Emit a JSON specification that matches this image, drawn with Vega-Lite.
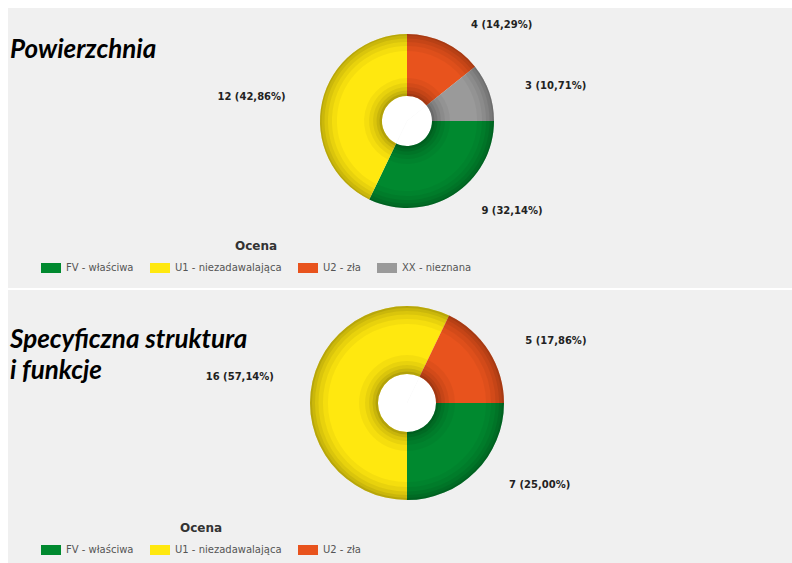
{
  "$schema": "https://vega.github.io/schema/vega-lite/v6.json",
  "background": "white",
  "padding": {"left": 8, "top": 8, "right": 0, "bottom": 0},
  "spacing": 2,
  "resolve": {"scale": {"color": "independent", "theta": "independent"}, "legend": {"color": "independent"}},
  "vconcat": [
    {
      "width": 784,
      "height": 280,
      "title": {"text": "Powierzchnia", "anchor": "start", "frame": "group", "orient": "top", "offset": 0, "baseline": "alphabetic", "dy": 76, "font": "Lato", "fontSize": 26, "fontWeight": "bold", "fontStyle": "italic", "color": "#000000", "dx": 2},
      "data": {"values": [
        {"ocena": "FV - właściwa", "liczba": 9, "etykieta": "9 (32,14%)"},
        {"ocena": "U1 - niezadawalająca", "liczba": 12, "etykieta": "12 (42,86%)"},
        {"ocena": "U2 - zła", "liczba": 4, "etykieta": "4 (14,29%)"},
        {"ocena": "XX - nieznana", "liczba": 3, "etykieta": "3 (10,71%)"}
      ]},
      "layer": [
        {"mark": {"type": "rect", "fill": "#f0f0f0"}, "encoding": {}},
        {
          "encoding": {
            "theta": {"field": "liczba", "type": "quantitative", "stack": true, "scale": {"range": [1.5707963, 7.8539816]}},
            "detail": {"field": "ocena", "type": "nominal"},
            "order": {"field": "ocena", "type": "ordinal"}
          },
          "layer": [
            {"mark": {"type": "arc", "radius": 26, "radius2": 0, "fill": "white", "xOffset": 7, "yOffset": -27}},
            {"mark": {"type": "arc", "radius": 87, "radius2": 25, "xOffset": 7, "yOffset": -27, "strokeWidth": 0},
             "encoding": {"color": {"field": "ocena", "type": "nominal",
               "scale": {"domain": ["FV - właściwa", "U1 - niezadawalająca", "U2 - zła", "XX - nieznana"], "range": ["#00892f", "#ffe80f", "#e8531d", "#9a9a9a"]},
               "legend": {"orient": "none", "legendX": 33, "legendY": 233, "direction": "horizontal", "title": "Ocena", "titleAnchor": "middle"}}}},
            {"mark": {"type": "arc", "radius": 87, "radius2": 70, "fill": "black", "opacity": 0.04, "xOffset": 7, "yOffset": -27}},
            {"mark": {"type": "arc", "radius": 87, "radius2": 75, "fill": "black", "opacity": 0.05, "xOffset": 7, "yOffset": -27}},
            {"mark": {"type": "arc", "radius": 87, "radius2": 79, "fill": "black", "opacity": 0.06, "xOffset": 7, "yOffset": -27}},
            {"mark": {"type": "arc", "radius": 87, "radius2": 82.5, "fill": "black", "opacity": 0.07, "xOffset": 7, "yOffset": -27}},
            {"mark": {"type": "arc", "radius": 87, "radius2": 85.5, "fill": "black", "opacity": 0.09, "xOffset": 7, "yOffset": -27}},
            {"mark": {"type": "arc", "radius": 43, "radius2": 25, "fill": "black", "opacity": 0.04, "xOffset": 7, "yOffset": -27}},
            {"mark": {"type": "arc", "radius": 38, "radius2": 25, "fill": "black", "opacity": 0.05, "xOffset": 7, "yOffset": -27}},
            {"mark": {"type": "arc", "radius": 34, "radius2": 25, "fill": "black", "opacity": 0.06, "xOffset": 7, "yOffset": -27}},
            {"mark": {"type": "arc", "radius": 30.5, "radius2": 25, "fill": "black", "opacity": 0.08, "xOffset": 7, "yOffset": -27}},
            {"mark": {"type": "arc", "radius": 27.5, "radius2": 25, "fill": "black", "opacity": 0.1, "xOffset": 7, "yOffset": -27}},
            {"mark": {"type": "text", "radius": 106, "xOffset": 7, "yOffset": -27, "font": "DejaVu Sans", "fontSize": 10, "fontWeight": "bold", "fill": "#222222", "baseline": "middle",
               "align": {"expr": "indexof(datum.ocena, 'U1') == 0 ? 'right' : 'left'"},
               "dx": {"expr": "indexof(datum.ocena, 'U1') == 0 ? -18 : 18"}},
             "encoding": {"text": {"field": "etykieta", "type": "nominal"}}}
          ]
        }
      ]
    },
    {
      "width": 784,
      "height": 273,
      "title": {"text": ["Specyficzna struktura", "\u00a0i funkcje"], "anchor": "start", "frame": "group", "orient": "top", "offset": 0, "baseline": "alphabetic", "dy": 115, "lineHeight": 31, "font": "Lato", "fontSize": 26, "fontWeight": "bold", "fontStyle": "italic", "color": "#000000", "dx": 2},
      "data": {"values": [
        {"ocena": "FV - właściwa", "liczba": 7, "etykieta": "7 (25,00%)"},
        {"ocena": "U1 - niezadawalająca", "liczba": 16, "etykieta": "16 (57,14%)"},
        {"ocena": "U2 - zła", "liczba": 5, "etykieta": "5 (17,86%)"}
      ]},
      "layer": [
        {"mark": {"type": "rect", "fill": "#f0f0f0"}, "encoding": {}},
        {
          "encoding": {
            "theta": {"field": "liczba", "type": "quantitative", "stack": true, "scale": {"range": [1.5707963, 7.8539816]}},
            "detail": {"field": "ocena", "type": "nominal"},
            "order": {"field": "ocena", "type": "ordinal"}
          },
          "layer": [
            {"mark": {"type": "arc", "radius": 30, "radius2": 0, "fill": "white", "xOffset": 7, "yOffset": -23.5}},
            {"mark": {"type": "arc", "radius": 97, "radius2": 29, "xOffset": 7, "yOffset": -23.5, "strokeWidth": 0},
             "encoding": {"color": {"field": "ocena", "type": "nominal",
               "scale": {"domain": ["FV - właściwa", "U1 - niezadawalająca", "U2 - zła"], "range": ["#00892f", "#ffe80f", "#e8531d"]},
               "legend": {"orient": "none", "legendX": 33, "legendY": 233, "direction": "horizontal", "title": "Ocena", "titleAnchor": "middle"}}}},
            {"mark": {"type": "arc", "radius": 97, "radius2": 79, "fill": "black", "opacity": 0.04, "xOffset": 7, "yOffset": -23.5}},
            {"mark": {"type": "arc", "radius": 97, "radius2": 84, "fill": "black", "opacity": 0.05, "xOffset": 7, "yOffset": -23.5}},
            {"mark": {"type": "arc", "radius": 97, "radius2": 88.5, "fill": "black", "opacity": 0.06, "xOffset": 7, "yOffset": -23.5}},
            {"mark": {"type": "arc", "radius": 97, "radius2": 92, "fill": "black", "opacity": 0.07, "xOffset": 7, "yOffset": -23.5}},
            {"mark": {"type": "arc", "radius": 97, "radius2": 95, "fill": "black", "opacity": 0.09, "xOffset": 7, "yOffset": -23.5}},
            {"mark": {"type": "arc", "radius": 48, "radius2": 29, "fill": "black", "opacity": 0.04, "xOffset": 7, "yOffset": -23.5}},
            {"mark": {"type": "arc", "radius": 42, "radius2": 29, "fill": "black", "opacity": 0.05, "xOffset": 7, "yOffset": -23.5}},
            {"mark": {"type": "arc", "radius": 38, "radius2": 29, "fill": "black", "opacity": 0.06, "xOffset": 7, "yOffset": -23.5}},
            {"mark": {"type": "arc", "radius": 34.5, "radius2": 29, "fill": "black", "opacity": 0.08, "xOffset": 7, "yOffset": -23.5}},
            {"mark": {"type": "arc", "radius": 31.5, "radius2": 29, "fill": "black", "opacity": 0.1, "xOffset": 7, "yOffset": -23.5}},
            {"mark": {"type": "text", "radius": 116, "xOffset": 7, "yOffset": -23.5, "font": "DejaVu Sans", "fontSize": 10, "fontWeight": "bold", "fill": "#222222", "baseline": "middle",
               "align": {"expr": "indexof(datum.ocena, 'U1') == 0 ? 'right' : 'left'"},
               "dx": {"expr": "indexof(datum.ocena, 'U1') == 0 ? -20 : 20"}},
             "encoding": {"text": {"field": "etykieta", "type": "nominal"}}}
          ]
        }
      ]
    }
  ],
  "config": {
    "view": {"stroke": null},
    "arc": {"stroke": null},
    "legend": {"labelFont": "DejaVu Sans", "labelFontSize": 10, "labelColor": "#555555", "titleFont": "DejaVu Sans", "titleFontSize": 12, "titleFontWeight": "bold", "titleColor": "#333333", "symbolType": "M-1,-0.5H1V0.5H-1Z", "symbolSize": 400, "symbolStrokeWidth": 0, "symbolOpacity": 1, "labelOffset": 5, "columnPadding": 16, "titlePadding": 5, "padding": 0, "offset": 0}
  }
}
